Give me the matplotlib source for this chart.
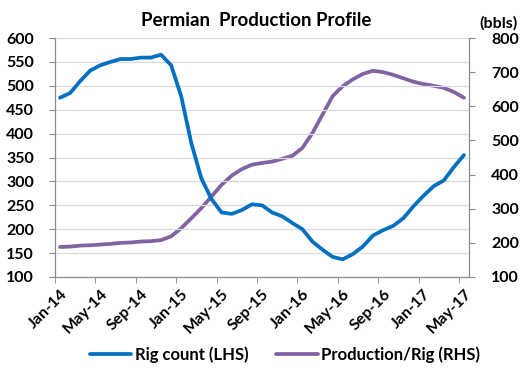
import numpy as np
from matplotlib import pyplot as plt

plt.rcParams['font.family'] = ['Lato', 'DejaVu Sans']
plt.rcParams['font.weight'] = 'bold'

months = ["Jan-14", "Feb-14", "Mar-14", "Apr-14", "May-14", "Jun-14", "Jul-14", "Aug-14",
          "Sep-14", "Oct-14", "Nov-14", "Dec-14", "Jan-15", "Feb-15", "Mar-15", "Apr-15",
          "May-15", "Jun-15", "Jul-15", "Aug-15", "Sep-15", "Oct-15", "Nov-15", "Dec-15",
          "Jan-16", "Feb-16", "Mar-16", "Apr-16", "May-16", "Jun-16", "Jul-16", "Aug-16",
          "Sep-16", "Oct-16", "Nov-16", "Dec-16", "Jan-17", "Feb-17", "Mar-17", "Apr-17",
          "May-17"]

rig_count = [475, 485, 510, 532, 543, 550, 556, 556, 559, 559, 565, 543, 478, 380, 306, 263,
             235, 232, 240, 252, 250, 235, 227, 213, 200, 174, 157, 142, 137, 148, 164, 187,
             198, 207, 223, 248, 270, 290, 302, 330, 355]

prod_per_rig = [188, 189, 192, 193, 195, 197, 200, 201, 204, 205, 208, 219, 243, 272, 302, 336,
                370, 397, 416, 429, 434, 438, 446, 455, 478, 522, 576, 630, 659, 679, 695, 704,
                700, 692, 682, 672, 665, 660, 654, 642, 625]

x = np.arange(len(months))

fig = plt.figure(figsize=(5.31, 3.69), dpi=100)
fig.subplots_adjust(left=55/531, right=469/531, top=1-38/369, bottom=1-277/369)
ax = fig.add_subplot(111)
ax2 = ax.twinx()

l1, = ax.plot(x, rig_count, color='#0070C0', lw=2.7, label="Rig count (LHS)", solid_capstyle='round')
l2, = ax2.plot(x, prod_per_rig, color='#8064A2', lw=2.7, label="Production/Rig (RHS)", solid_capstyle='round')
ax.set_zorder(ax2.get_zorder() + 1)
ax.patch.set_visible(False)

ax.set_ylim(100, 600)
ax.set_yticks(np.arange(100, 601, 50))
ax2.set_ylim(100, 800)
ax2.set_yticks(np.arange(100, 801, 100))
ax.set_xlim(-0.5, len(months) - 0.5)

ax.yaxis.grid(True, color='#d9d9d9', lw=0.9)
ax.set_axisbelow(True)
ax.tick_params(axis='y', length=4, color='#888888', labelsize=11.5, pad=11)
ax2.tick_params(axis='y', length=4, color='#888888', labelsize=11.5, pad=12)

ax.set_xticks(x[::4])
ax.set_xticklabels(months[::4], rotation=45, ha='right', rotation_mode='anchor', fontsize=11.5)
ax.set_xticks(np.arange(-0.5, len(months), 4), minor=True)
ax.tick_params(axis='x', which='major', length=0, pad=7)
ax.tick_params(axis='x', which='minor', length=4, color='#888888')

for a in (ax, ax2):
    a.spines['top'].set_visible(False)
    a.spines['left'].set_color('#888888')
    a.spines['right'].set_color('#888888')
    a.spines['bottom'].set_color('#888888')

fig.text(256/531, 1-21/369, "Permian  Production Profile", ha='center', va='center', fontsize=13.5, fontweight='bold')
fig.text(499/531, 1-23/369, "(bbls)", ha='center', va='center', fontsize=11.5, fontweight='bold')

fig.legend(handles=[l1, l2], loc='center', bbox_to_anchor=(285/531, 1-355/369), ncol=2, frameon=False,
           fontsize=12, handlelength=2.5, columnspacing=1.7, handletextpad=0.2)

fig.savefig("out.png", dpi=100)
